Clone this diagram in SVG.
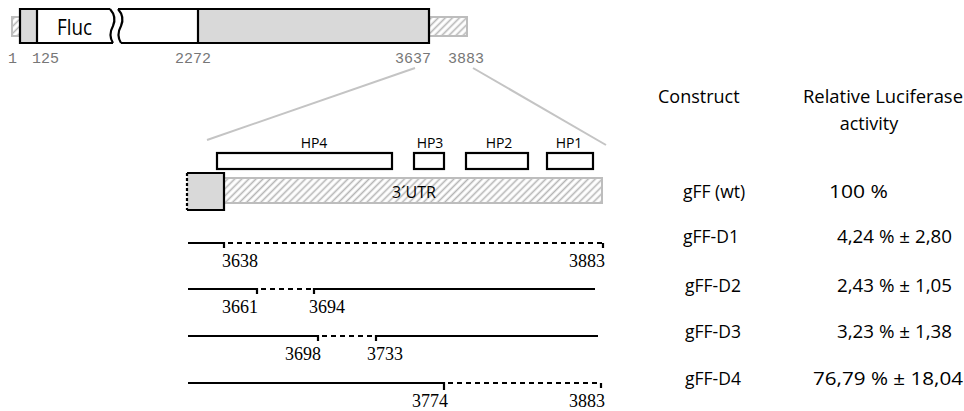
<svg xmlns="http://www.w3.org/2000/svg" width="964" height="411" viewBox="0 0 964 411">
<defs>
<pattern id="hatch" patternUnits="userSpaceOnUse" width="5" height="5" patternTransform="rotate(45)">
<rect width="5" height="5" fill="#fff"/>
<line x1="2.5" y1="0" x2="2.5" y2="5" stroke="#b5b5b5" stroke-width="1.6"/>
</pattern>
<style>
.hat{fill:url(#hatch);stroke:#bdbdbd;stroke-width:2}
.ol{fill:none;stroke:#000;stroke-width:2.2}
.gr{fill:#d9d9d9}
.mono{font-family:"Liberation Mono",monospace;font-size:15px;fill:#777}
.sans{font-family:"Open Sans","Noto Sans",sans-serif;fill:#000}
.ser{font-family:"Liberation Serif",serif;font-size:18px;fill:#000}
.ln{stroke:#000;stroke-width:2.2;fill:none}
.dash{stroke:#000;stroke-width:2.2;fill:none;stroke-dasharray:5 4}
.zoom{stroke:#c4c4c4;stroke-width:2;fill:none}
.hp{fill:#fff;stroke:#000;stroke-width:2.2}
.hd{font-size:18px}
.nm{font-size:17.5px}
.vl{font-size:17.5px}
</style>
</defs>

<g id="top-construct">
<rect class="hat" x="12" y="17" width="8" height="19"/>
<rect class="hat" x="429" y="17" width="38" height="19"/>
<rect class="gr" x="20" y="9" width="17" height="34"/>
<path d="M37,9 L110,9 Q117,17 113,26 Q108,35 113,43 L37,43 Z" fill="#fff"/>
<path d="M118,9 Q125,17 121,26 Q116,35 121,43 L198,43 L198,9 Z" fill="#fff"/>
<rect class="gr" x="198" y="9" width="231" height="34"/>
<path class="ol" d="M110,9 L20,9 L20,43 L113,43"/>
<path class="ol" d="M110,9 Q117,17 113,26 Q108,35 113,43"/>
<path class="ol" d="M118,9 Q125,17 121,26 Q116,35 121,43"/>
<path class="ol" d="M118,9 L429,9 L429,43 L121,43"/>
<line class="ol" x1="37" y1="9" x2="37" y2="43"/>
<line class="ol" x1="198" y1="9" x2="198" y2="43"/>
<text class="sans" x="57" y="35" font-size="21" textLength="35" lengthAdjust="spacingAndGlyphs">Fluc</text>
<text class="mono" x="8" y="63">1</text>
<text class="mono" x="32" y="63">125</text>
<text class="mono" x="175" y="63">2272</text>
<text class="mono" x="395" y="63">3637</text>
<text class="mono" x="448" y="63">3883</text>
</g>

<g id="zoom-lines">
<line class="zoom" x1="415" y1="68" x2="207" y2="140"/>
<line class="zoom" x1="473" y1="68" x2="606" y2="145"/>
</g>

<g id="utr">
<rect class="hat" x="224" y="178" width="378" height="25"/>
<rect class="gr" x="187" y="173" width="37" height="37"/>
<path class="ol" d="M187,173 L224,173 L224,210 L187,210"/>
<line x1="187" y1="173" x2="187" y2="210" stroke="#000" stroke-width="2.2" stroke-dasharray="3 2"/>
<text class="sans" x="414" y="198" font-size="16" text-anchor="middle">3´UTR</text>
</g>

<g id="hairpins">
<rect class="hp" x="217" y="153" width="175" height="16"/>
<rect class="hp" x="414" y="153" width="30" height="16"/>
<rect class="hp" x="466" y="153" width="62" height="16"/>
<rect class="hp" x="547" y="153" width="46" height="16"/>
<text class="sans" font-size="14" text-anchor="middle" x="314" y="148">HP4</text>
<text class="sans" font-size="14" text-anchor="middle" x="430" y="148">HP3</text>
<text class="sans" font-size="14" text-anchor="middle" x="499" y="148">HP2</text>
<text class="sans" font-size="14" text-anchor="middle" x="569" y="148">HP1</text>
</g>

<g id="deletions">
<path class="ln" d="M188,243 L224,243 L224,248"/>
<path class="dash" d="M228,243 L603,243"/>
<path class="ln" d="M603,243 L603,248"/>
<text class="ser" x="222" y="267">3638</text>
<text class="ser" x="605" y="267" text-anchor="end">3883</text>

<path class="ln" d="M188,289 L257,289 L257,294"/>
<path class="dash" d="M261,289 L312,289"/>
<path class="ln" d="M314,294 L314,289 L595,289"/>
<text class="ser" x="222" y="313">3661</text>
<text class="ser" x="309" y="313">3694</text>

<path class="ln" d="M188,336 L318,336 L318,341"/>
<path class="dash" d="M322,336 L374,336"/>
<path class="ln" d="M376,341 L376,336 L598,336"/>
<text class="ser" x="285" y="360">3698</text>
<text class="ser" x="367" y="360">3733</text>

<path class="ln" d="M188,383 L444,383 L444,390"/>
<path class="dash" d="M448,383 L601,383"/>
<path class="ln" d="M601,383 L601,388"/>
<text class="ser" x="412" y="407">3774</text>
<text class="ser" x="605" y="407" text-anchor="end">3883</text>
</g>

<g id="table" class="sans">
<text class="hd" x="658" y="103">Construct</text>
<text class="hd" x="803" y="103" textLength="160" lengthAdjust="spacingAndGlyphs">Relative Luciferase</text>
<text class="hd" x="869" y="130" text-anchor="middle">activity</text>
<text class="nm" x="683" y="198">gFF (wt)</text>
<text class="vl" x="829" y="198" textLength="59" lengthAdjust="spacingAndGlyphs">100 %</text>
<text class="nm" x="683" y="243">gFF-D1</text>
<text class="vl" x="837" y="243" textLength="115" lengthAdjust="spacingAndGlyphs">4,24 % ± 2,80</text>
<text class="nm" x="685" y="292">gFF-D2</text>
<text class="vl" x="837" y="292" textLength="115" lengthAdjust="spacingAndGlyphs">2,43 % ± 1,05</text>
<text class="nm" x="685" y="338">gFF-D3</text>
<text class="vl" x="837" y="338" textLength="115" lengthAdjust="spacingAndGlyphs">3,23 % ± 1,38</text>
<text class="nm" x="685" y="385">gFF-D4</text>
<text class="vl" x="813" y="385" textLength="150" lengthAdjust="spacingAndGlyphs">76,79 % ± 18,04</text>
</g>
</svg>
